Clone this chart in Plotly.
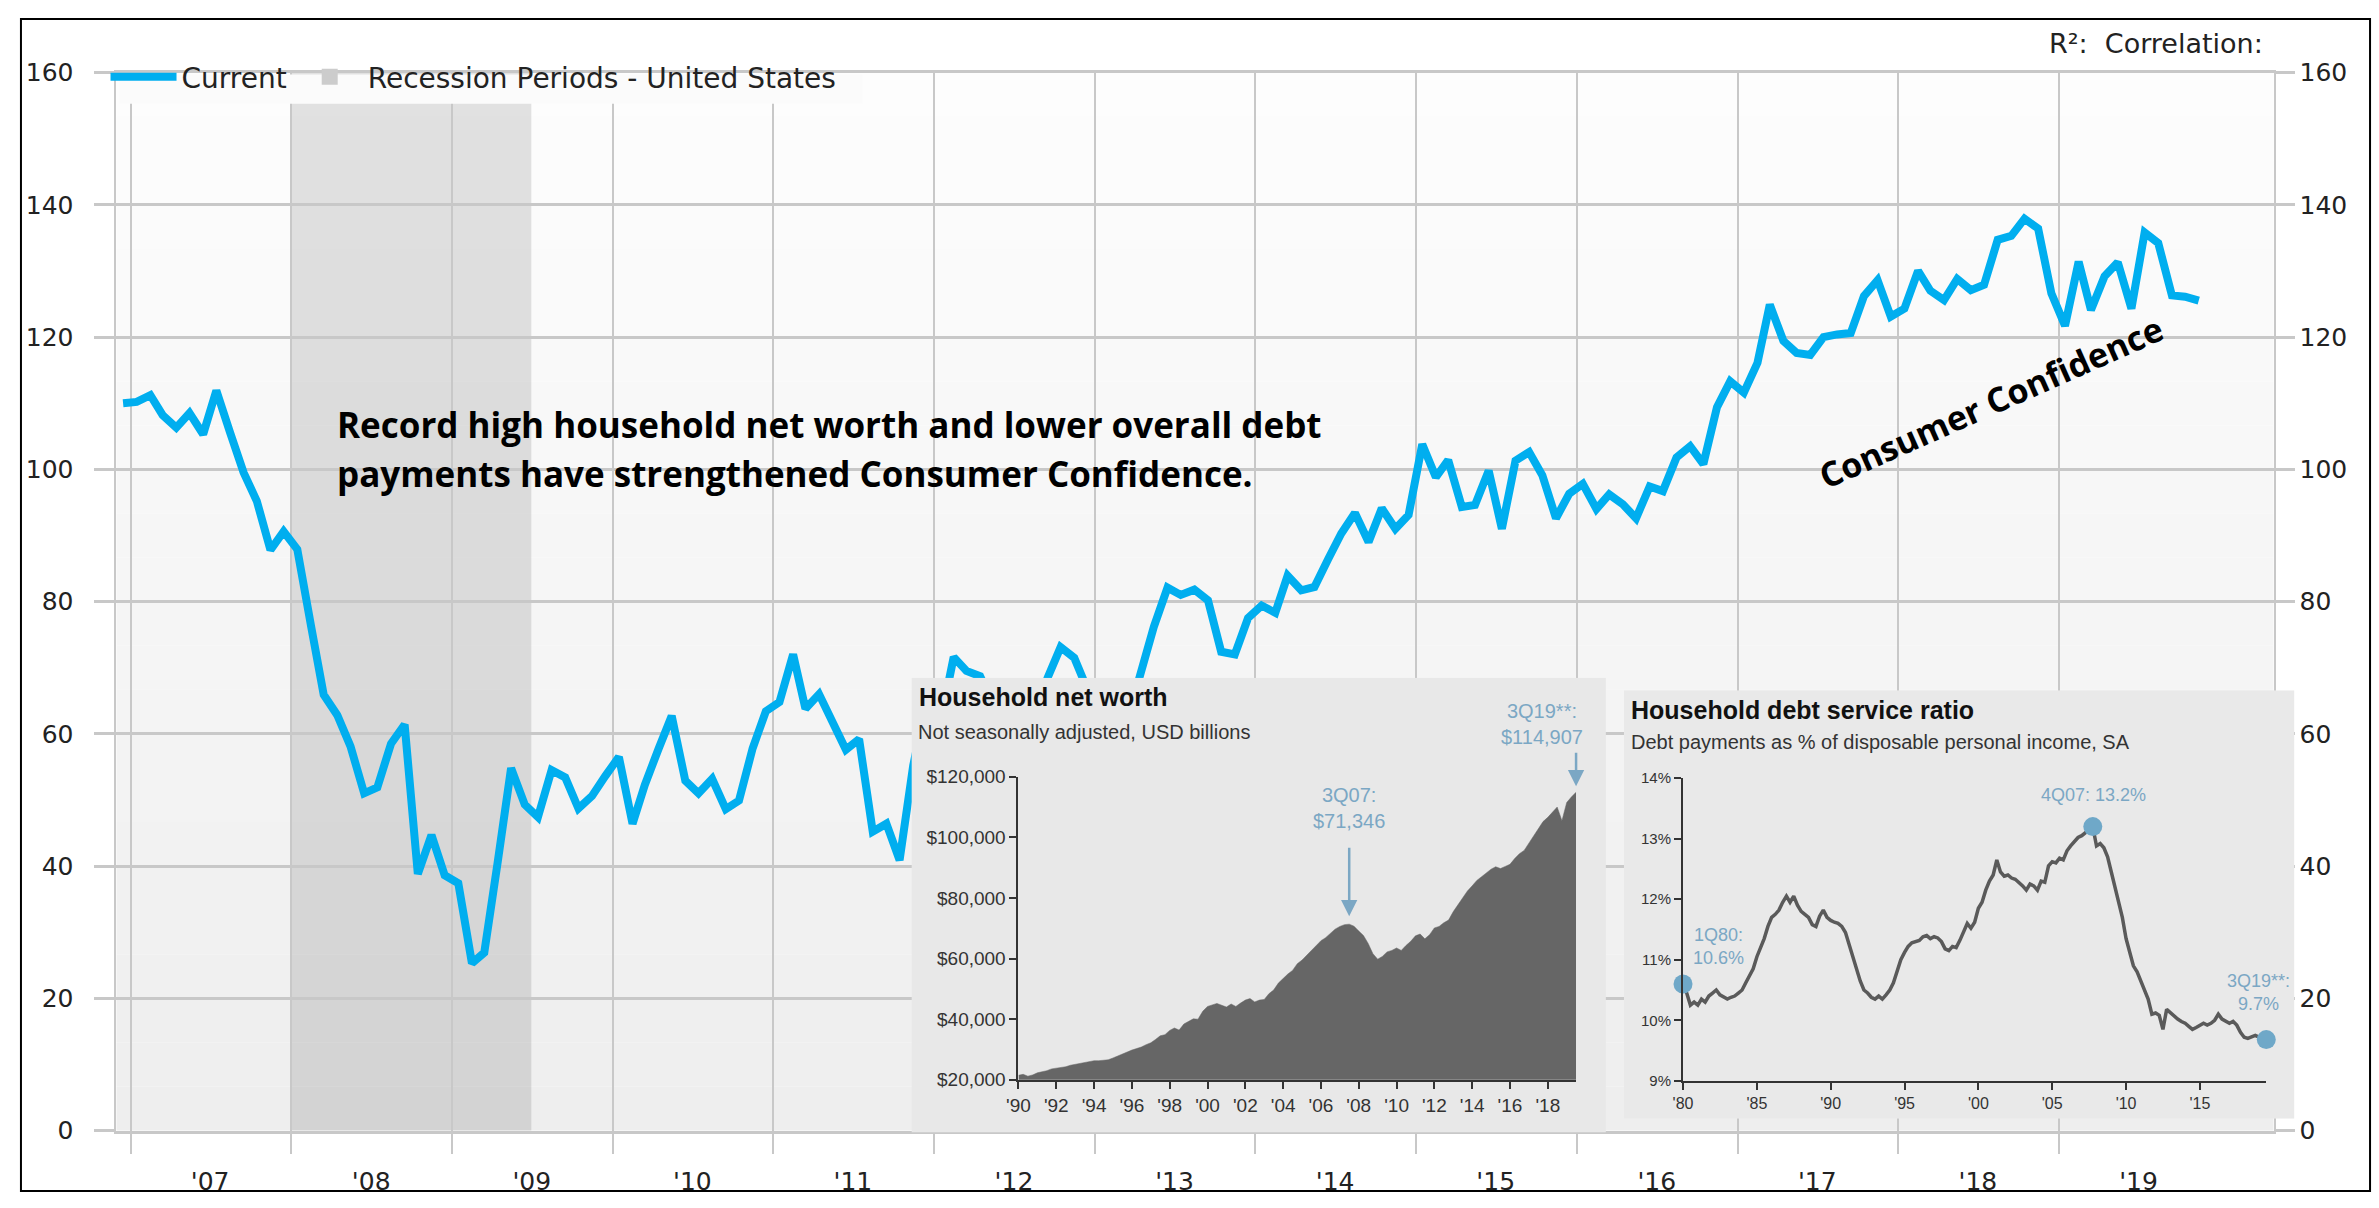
import plotly.graph_objects as go
import pandas as pd

W, H = 2379, 1208

# ---------------- data ----------------
# Consumer Confidence index, monthly, Dec 2006 .. Nov 2019
cc_first_month = "2006-12"
cc_values = [
    110.0,
    110.2, 111.2, 108.2, 106.3, 108.5, 105.3, 111.9, 105.6, 99.5, 95.2, 87.8, 90.6,
    87.9, 76.4, 65.9, 62.8, 58.1, 51.0, 51.9, 58.5, 61.4, 38.8, 44.7, 38.6,
    37.4, 25.3, 26.9, 40.8, 54.8, 49.3, 47.4, 54.5, 53.4, 48.7, 50.6, 53.6,
    56.5, 46.4, 52.3, 57.7, 62.7, 52.9, 51.0, 53.2, 48.6, 49.9, 57.8, 63.4,
    64.8, 72.0, 63.8, 66.0, 61.7, 57.6, 59.2, 45.2, 46.4, 40.9, 55.2, 64.8,
    61.5, 71.6, 69.5, 68.7, 64.4, 62.7, 65.4, 61.3, 68.4, 73.1, 71.5, 66.7,
    58.4, 68.0, 61.9, 69.0, 76.2, 82.1, 81.0, 81.8, 80.2, 72.4, 72.0, 77.5,
    79.4, 78.3, 83.9, 81.7, 82.2, 86.4, 90.3, 93.4, 89.0, 94.1, 91.0, 93.1,
    103.8, 98.8, 101.4, 94.3, 94.6, 99.8, 91.0, 101.3, 102.6, 99.1, 92.6, 96.3,
    97.8, 94.0, 96.2, 94.7, 92.6, 97.4, 96.7, 101.8, 103.5, 100.8, 109.4, 113.3,
    111.6, 116.1, 124.9, 119.4, 117.6, 117.3, 120.0, 120.4, 120.6, 126.2, 128.6, 123.1,
    124.3, 130.0, 127.0, 125.6, 128.8, 127.1, 127.9, 134.7, 135.3, 137.9, 136.4, 126.6,
    121.7, 131.4, 124.1, 129.2, 131.3, 124.3, 135.8, 134.2, 126.3, 126.1, 125.5,
]
years = list(range(2007, 2020))
year_labels = ["'07", "'08", "'09", "'10", "'11", "'12", "'13",
               "'14", "'15", "'16", "'17", "'18", "'19"]
recession_start = "2007-12-31"
recession_end = "2009-06-30"

# Household net worth, quarterly, USD billions, 1Q90 .. 3Q19
nw_first_quarter = "1990Q1"
nw_values = [
    21500, 21800, 21200, 21600,
    22300, 22600, 23000, 23600,
    23800, 24000, 24300, 24800,
    25100, 25400, 25800, 26100,
    26300, 26300, 26500, 26600,
    27200, 27900, 28600, 29200,
    29800, 30300, 30800, 31600,
    32200, 33300, 34500, 34900,
    36300, 37100, 36400, 38400,
    39200, 40100, 40000, 42600,
    44200, 44600, 45200, 44600,
    44000, 45000, 44200, 45300,
    46300, 46800, 45700, 46300,
    46500, 48400, 49600, 51900,
    53500, 54900, 56100, 58300,
    59500, 61100, 62900, 64300,
    65900, 66900, 68400, 69700,
    70600, 71200, 71346, 70700,
    69100, 67600, 65000, 61600,
    59800, 60700, 62200, 62700,
    63500, 62700, 64300, 65700,
    67500, 68100, 66500, 67900,
    70100, 70600, 71800, 72700,
    75500, 77800, 79800, 82300,
    84000, 85800, 87000, 88300,
    89500, 90300, 89700, 90400,
    91100, 93000, 94600, 95700,
    98200, 100400, 102700, 105200,
    106600, 108300, 110000, 105500,
    111500, 113300, 114907,
]

# Household debt service ratio, quarterly, %, 1Q80 .. 3Q19
dsr_first_quarter = "1980Q1"
dsr_values = [
    10.60, 10.45, 10.25, 10.30,
    10.25, 10.35, 10.30, 10.40,
    10.45, 10.50, 10.42, 10.38,
    10.35, 10.38, 10.40, 10.45,
    10.50, 10.62, 10.75, 10.85,
    11.05, 11.20, 11.35, 11.55,
    11.70, 11.75, 11.82, 11.95,
    12.05, 11.95, 12.05, 11.90,
    11.80, 11.75, 11.70, 11.58,
    11.55, 11.72, 11.82, 11.70,
    11.65, 11.62, 11.60, 11.55,
    11.45, 11.25, 11.05, 10.85,
    10.65, 10.50, 10.45, 10.38,
    10.35, 10.40, 10.35, 10.42,
    10.50, 10.62, 10.82, 11.00,
    11.12, 11.22, 11.28, 11.30,
    11.32, 11.38, 11.40, 11.35,
    11.38, 11.36, 11.30, 11.18,
    11.15, 11.22, 11.20, 11.32,
    11.45, 11.60, 11.52, 11.62,
    11.85, 11.95, 12.15, 12.30,
    12.40, 12.65, 12.45, 12.38,
    12.40, 12.35, 12.33, 12.28,
    12.22, 12.15, 12.25, 12.22,
    12.15, 12.30, 12.28, 12.55,
    12.62, 12.60, 12.68, 12.65,
    12.80, 12.88, 12.95, 13.02,
    13.05, 13.10, 13.15, 13.20,
    12.88, 12.92, 12.85, 12.70,
    12.45, 12.20, 11.95, 11.70,
    11.35, 11.15, 10.90, 10.80,
    10.65, 10.50, 10.35, 10.10,
    10.12, 10.08, 9.85, 10.18,
    10.12, 10.08, 10.02, 9.98,
    9.95, 9.90, 9.85, 9.88,
    9.92, 9.95, 9.92, 9.95,
    10.00, 10.10, 10.02, 9.98,
    9.95, 9.98, 9.92, 9.80,
    9.72, 9.70, 9.72, 9.75,
    9.72, 9.70, 9.68,
]

# ---------------- derived x values ----------------
cc_dates = pd.period_range(cc_first_month, periods=len(cc_values), freq="M").to_timestamp() + pd.Timedelta(days=14)
nw_dates = pd.period_range(nw_first_quarter, periods=len(nw_values), freq="Q").to_timestamp()
dsr_dates = pd.period_range(dsr_first_quarter, periods=len(dsr_values), freq="Q").to_timestamp()
year_starts = [f"{y}-01-01" for y in years]
mid_years = [f"{y}-07-01" for y in years]

# ---------------- helpers (pixel -> paper) ----------------
def px(x):
    return x / W

def py(y):
    return 1 - y / H

BLUE = "#00AEEF"
GRID = "#c8c8c8"
NOTE = "#7ba7c4"
MAIN_FONT = "DejaVu Sans"
INSET_FONT = "Liberation Sans"

fig = go.Figure()

# main line
fig.add_trace(go.Scatter(
    x=cc_dates, y=cc_values, mode="lines", name="Current",
    line=dict(color=BLUE, width=8), xaxis="x", yaxis="y",
))
# legend entry for recession
fig.add_trace(go.Scatter(
    x=[None], y=[None], mode="markers", name="Recession Periods - United States",
    marker=dict(symbol="square", size=16, color="#cccccc"), xaxis="x", yaxis="y",
))
# invisible trace to carry the right axis
fig.add_trace(go.Scatter(
    x=cc_dates[:1], y=cc_values[:1], mode="markers", marker=dict(opacity=0),
    showlegend=False, hoverinfo="skip", xaxis="x", yaxis="y2",
))

# inset 1: household net worth
fig.add_trace(go.Scatter(
    x=nw_dates, y=nw_values, mode="lines", fill="tozeroy",
    line=dict(color="#666666", width=0.5), fillcolor="#666666",
    showlegend=False, xaxis="x4", yaxis="y4",
))

# inset 2: debt service ratio
fig.add_trace(go.Scatter(
    x=dsr_dates, y=dsr_values, mode="lines",
    line=dict(color="#5a5a5a", width=3.5),
    showlegend=False, xaxis="x6", yaxis="y6",
))
peak_i = max(range(len(dsr_values)), key=lambda i: dsr_values[i])
mark_idx = [0, peak_i, len(dsr_values) - 1]
fig.add_trace(go.Scatter(
    x=[dsr_dates[i] for i in mark_idx], y=[dsr_values[i] for i in mark_idx],
    mode="markers", marker=dict(size=19, color="#6fa8c8"),
    cliponaxis=False, showlegend=False, xaxis="x6", yaxis="y6",
))

tick_font = dict(family=MAIN_FONT, size=25, color="#222")
inset_tick = dict(family=INSET_FONT, size=19, color="#333")

# ---------------- shapes ----------------
shapes = []
top_c, bot_c = 253, 238
n_bands = 24
for i in range(n_bands):
    c = round(top_c + (bot_c - top_c) * i / (n_bands - 1))
    shapes.append(dict(
        type="rect", xref="x domain", yref="y domain",
        x0=0, x1=1, y0=1 - (i + 1) / n_bands, y1=1 - i / n_bands,
        fillcolor=f"rgb({c},{c},{c})", line=dict(width=0), layer="below",
    ))
shapes.append(dict(
    type="rect", xref="x", yref="y domain", x0=recession_start, x1=recession_end,
    y0=0, y1=1, fillcolor="rgba(0,0,0,0.11)", line=dict(width=0), layer="below",
))
for ax_x, ax_y, col in (("x3", "y3", "#e8e8e8"), ("x5", "y5", "#e9e9e9")):
    shapes.append(dict(
        type="rect", xref=ax_x, yref=ax_y, x0=0, x1=1, y0=0, y1=1,
        fillcolor=col, line=dict(width=0), layer="below",
    ))
# legend background strip (covers grid lines)
shapes.append(dict(
    type="rect", xref="paper", yref="paper",
    x0=px(108), x1=px(855), y0=py(92), y1=py(62),
    fillcolor="#fbfbfb", line=dict(width=0), layer="above",
))
shapes.append(dict(
    type="rect", xref="paper", yref="paper",
    x0=px(9), x1=px(2370), y0=py(1206), y1=py(5),
    line=dict(color="black", width=2), fillcolor="rgba(0,0,0,0)", layer="above",
))

# ---------------- annotations ----------------
ann = []
def txt(text, x, y, size, family, color="#000", xanchor="left", bold=False, align="left", angle=0):
    ann.append(dict(
        text=f"<b>{text}</b>" if bold else text, xref="paper", yref="paper",
        x=px(x), y=py(y), xanchor=xanchor, yanchor="middle", showarrow=False,
        align=align, textangle=angle,
        font=dict(family=family, size=size, color=color),
    ))

txt("Record high household net worth and lower overall debt", 325, 421, 35, "Open Sans", bold=True)
txt("payments have strengthened Consumer Confidence.", 325, 471, 35, "Open Sans", bold=True)
txt("Consumer Confidence", 1989, 398, 34, "Open Sans", bold=True, xanchor="center", angle=-24)
txt("R²:\u00a0\u00a0Correlation:", 2264, 30, 27, MAIN_FONT, color="#222", xanchor="right")

txt("Household net worth", 910, 700, 25, INSET_FONT, color="#111", bold=True)
txt("Not seasonally adjusted, USD billions", 909, 736, 20, INSET_FONT, color="#333")
txt("3Q07:<br>$71,346", 1344, 814, 20, INSET_FONT, color=NOTE, xanchor="center", align="center")
txt("3Q19**:<br>$114,907", 1538, 727, 20, INSET_FONT, color=NOTE, xanchor="center", align="center")

txt("Household debt service ratio", 1625, 713, 25, INSET_FONT, color="#111", bold=True)
txt("Debt payments as % of disposable personal income, SA", 1625, 746, 20, INSET_FONT, color="#333")
txt("4Q07: 13.2%", 2092, 800, 18, INSET_FONT, color=NOTE, xanchor="center")
txt("1Q80:<br>10.6%", 1715, 955, 18, INSET_FONT, color=NOTE, xanchor="center", align="center")
txt("3Q19**:<br>9.7%", 2258, 1003, 18, INSET_FONT, color=NOTE, xanchor="center", align="center")

nw_peak_i = nw_values.index(71346)
for xi, yi, ay, so in ((nw_dates[nw_peak_i], nw_values[nw_peak_i], -78, 8),
                       (nw_dates[-1], nw_values[-1], -41, 6)):
    ann.append(dict(
        x=xi, y=yi, xref="x4", yref="y4", text="", showarrow=True,
        ax=0, ay=ay, axref="pixel", ayref="pixel", standoff=so,
        arrowhead=2, arrowsize=1.3, arrowwidth=2.5, arrowcolor=NOTE,
    ))

# ---------------- layout ----------------
fig.update_layout(
    width=W, height=H,
    margin=dict(l=0, r=0, t=0, b=0),
    paper_bgcolor="white",
    plot_bgcolor="rgba(0,0,0,0)",
    hovermode=False,
    showlegend=True,
    legend=dict(
        x=px(94), y=py(39), xanchor="left", yanchor="top", orientation="h",
        bgcolor="rgba(0,0,0,0)", font=dict(family=MAIN_FONT, size=28, color="#222"),
        itemwidth=66, traceorder="normal",
    ),
    xaxis=dict(
        type="date", domain=[px(105), px(2273)], range=["2006-11-30", "2020-05-03"],
        anchor="y", tickmode="array", tickvals=mid_years, ticktext=year_labels,
        ticks="outside", ticklen=20, tickcolor="rgba(0,0,0,0)", ticklabelstandoff=6,
        showgrid=False, tickfont=tick_font,
        minor=dict(tickmode="array", tickvals=year_starts, ticks="outside", ticklen=20,
                   tickcolor=GRID, tickwidth=2, showgrid=True, gridcolor=GRID, gridwidth=2),
        showline=True, linecolor=GRID, linewidth=3, mirror=True, zeroline=False,
    ),
    yaxis=dict(
        domain=[py(1144), py(60)], range=[0, 160], dtick=20, anchor="x",
        ticks="outside", ticklen=20, tickcolor=GRID, tickwidth=3, ticklabelstandoff=16,
        showgrid=True, gridcolor=GRID, gridwidth=3, zeroline=False,
        showline=True, linecolor=GRID, linewidth=2, mirror=True, tickfont=tick_font,
    ),
    yaxis2=dict(
        overlaying="y", side="right", range=[0, 160], dtick=20, anchor="x",
        ticks="outside", ticklen=20, tickcolor=GRID, tickwidth=3,
        showgrid=False, zeroline=False, tickfont=tick_font,
    ),
    # inset 1 background box
    xaxis3=dict(domain=[px(904), px(1602)], range=[0, 1], anchor="y3", visible=False, fixedrange=True),
    yaxis3=dict(domain=[py(1146), py(680)], range=[0, 1], anchor="x3", visible=False, fixedrange=True),
    # inset 1 axes
    xaxis4=dict(
        type="date", domain=[px(1011.6), px(1572)], range=["1990-01-01", "2019-07-01"], anchor="y4",
        tickformat="'%y", dtick="M24", tick0="1990-01-01",
        ticks="outside", ticklen=7, tickcolor="#333", tickwidth=1.5,
        showline=True, linecolor="#333", linewidth=2, showgrid=False, zeroline=False,
        tickfont=inset_tick,
    ),
    yaxis4=dict(
        domain=[py(1092), py(781.5)], range=[20000, 120000], dtick=20000, anchor="x4",
        tickprefix="$", tickformat=",d",
        ticks="outside", ticklen=7, tickcolor="#333", tickwidth=1.5,
        showline=True, linecolor="#333", linewidth=2, showgrid=False, zeroline=False,
        tickfont=inset_tick,
    ),
    # inset 2 background box
    xaxis5=dict(domain=[px(1620), px(2294)], range=[0, 1], anchor="y5", visible=False, fixedrange=True),
    yaxis5=dict(domain=[py(1132), py(693)], range=[0, 1], anchor="x5", visible=False, fixedrange=True),
    # inset 2 axes
    xaxis6=dict(
        type="date", domain=[px(1679.5), px(2265.7)], range=["1980-01-01", "2019-07-01"], anchor="y6",
        tickformat="'%y", dtick="M60", tick0="1980-01-01",
        ticks="outside", ticklen=7, tickcolor="#333", tickwidth=1.5,
        showline=True, linecolor="#333", linewidth=2, showgrid=False, zeroline=False,
        tickfont=dict(family=INSET_FONT, size=16, color="#333"),
    ),
    yaxis6=dict(
        domain=[py(1093), py(783)], range=[9, 14], dtick=1, anchor="x6",
        ticksuffix="%", ticks="outside", ticklen=7, tickcolor="#333", tickwidth=1.5,
        showline=True, linecolor="#333", linewidth=2, showgrid=False, zeroline=False,
        tickfont=dict(family=INSET_FONT, size=15, color="#333"),
    ),
    shapes=shapes,
    annotations=ann,
)

fig.write_html("out.html")
